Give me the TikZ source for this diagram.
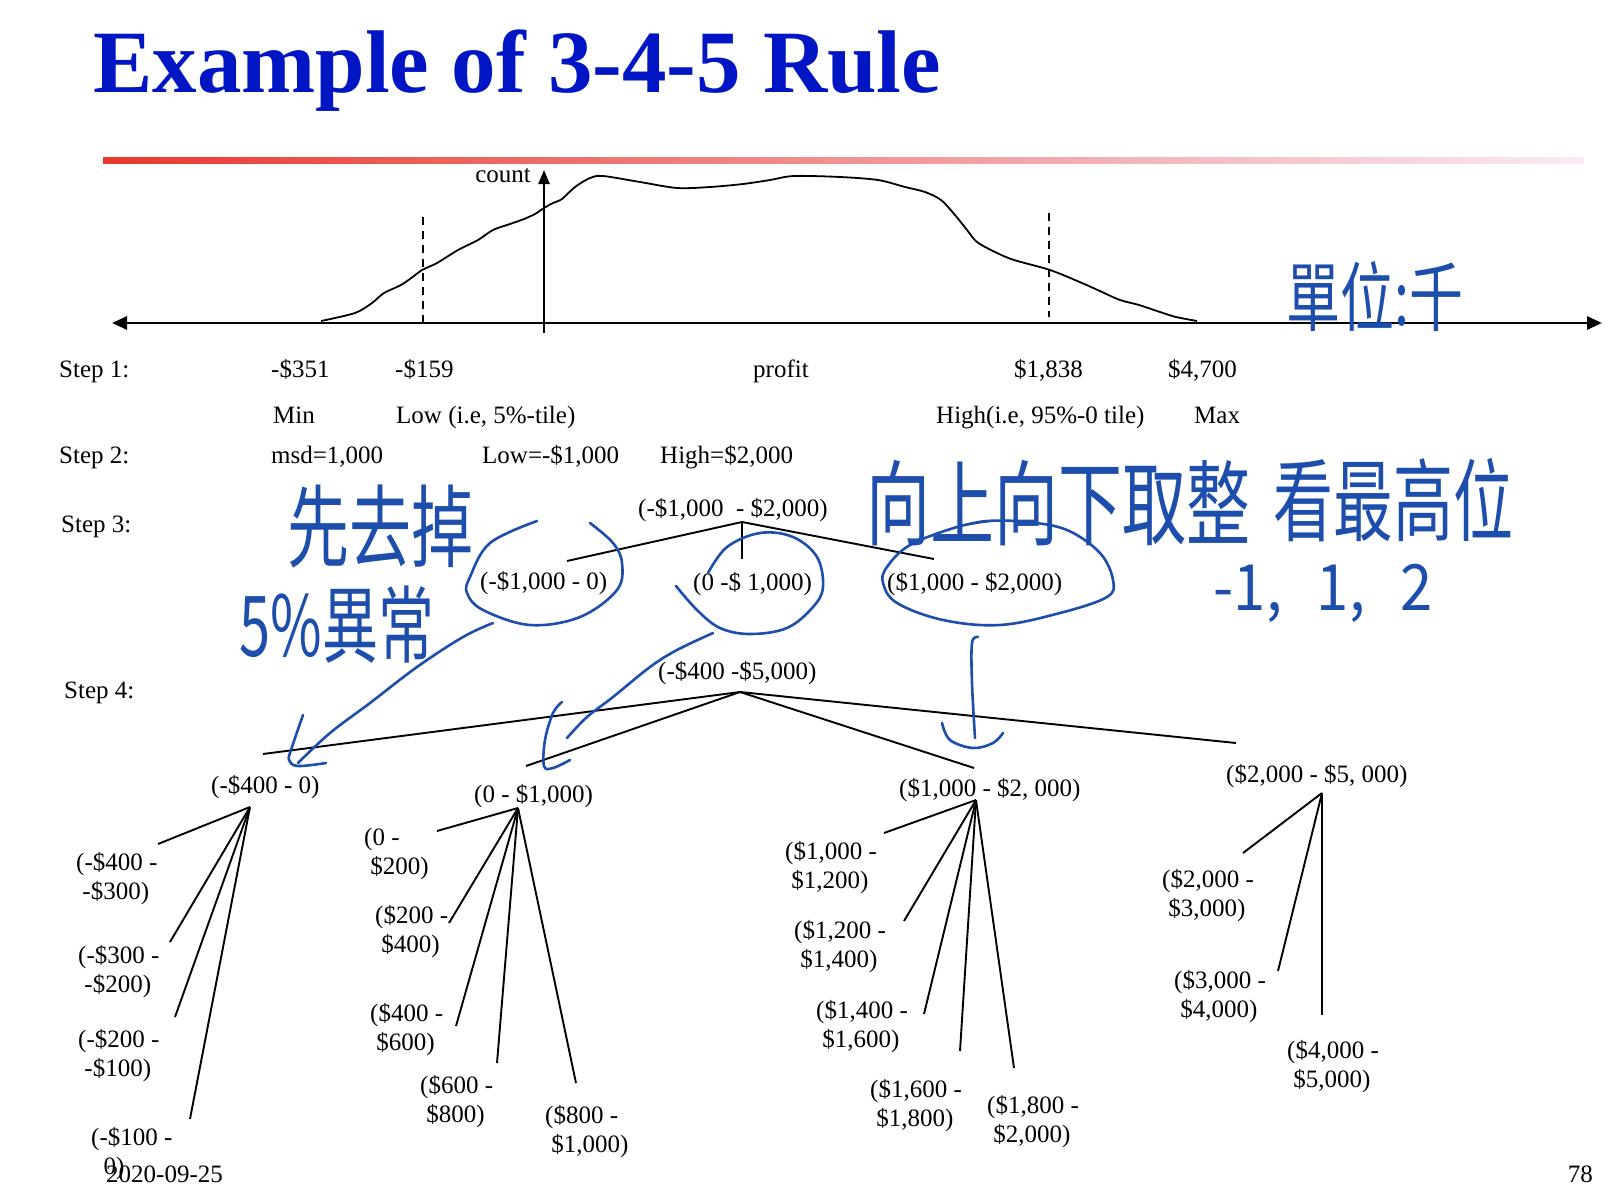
\documentclass[tikz,border=0pt]{standalone}
\usepackage{fontspec}
\usepackage{graphicx}
\setmainfont{Liberation Serif}
\newfontfamily\hwfont{Noto Sans CJK TC}
\usetikzlibrary{arrows.meta}

\definecolor{titleblue}{RGB}{0,22,196}
\definecolor{inkblue}{RGB}{29,78,171}
\definecolor{barred}{RGB}{232,56,44}
\definecolor{barpink}{RGB}{240,158,168}
\definecolor{barpale}{RGB}{249,234,246}

% two-line label whose baseline is that of its first line
\newcommand{\twoline}[2]{\begin{tabular}[t]{@{}l@{}}#1\\#2\end{tabular}}
\newcommand{\ind}{\hspace*{0.25em}}
% tall pen lettering
\newcommand{\tall}[2]{\scalebox{1}[#1]{#2}}

\begin{document}
\begin{tikzpicture}[x=1pt,y=-1pt,
  lbl/.style={font=\fontsize{25}{29.5}\selectfont, inner sep=0pt, anchor=base west},
  conn/.style={line width=1.9pt, black},
  axisline/.style={line width=2.8pt, black},
  curveline/.style={line width=1.8pt, black, line join=round},
  guide/.style={line width=1.4pt, black, dash pattern=on 8pt off 6pt},
  ink/.style={draw=inkblue, line width=2.6pt, line cap=round, line join=round},
  hw/.style={inner sep=0pt, text=inkblue}
]
\useasboundingbox (0,0) rectangle (1618,1194);
\fill[white] (0,0) rectangle (1618,1194);

% heading and colour bar
\node[anchor=base west, inner sep=0pt, text=titleblue,
      font=\bfseries\fontsize{89}{100}\selectfont] (title) at (93,92) {Example of 3-4-5 Rule};
\shade[left color=barred, middle color=barpink, right color=barpale] (103,157) rectangle (1584,163);

% axes
\coordinate (xl) at (112,323);
\coordinate (xr) at (1602,323);
\coordinate (yb) at (544,333);
\coordinate (yt) at (544,170);
\draw[axisline, {Triangle[length=15pt,width=13pt]}-{Triangle[length=15pt,width=13pt]}] (xl) -- (xr);
\draw[line width=2.4pt, -{Triangle[length=14pt,width=11pt]}] (yb) -- (yt);
\node[lbl, anchor=base east] (count) at (531,182) {count};

% distribution of profit
\draw[curveline] plot[smooth, tension=0.5] coordinates {
  (321,321) (355,313) (372,303) (384,293) (401,285) (414,276) (422,270) (437,263)
  (458,250) (478,240) (493,230) (510,224) (524,219) (535,214) (544,208) (553,203)
  (562,199) (575,187) (590,178) (603,176) (640,182) (677,188) (710,187) (743,184)
  (770,180) (794,176) (840,177) (878,180) (905,187) (925,192) (941,200) (955,215)
  (967,230) (977,242) (995,252) (1014,260) (1050,270) (1082,283) (1102,292)
  (1120,300) (1139,305) (1160,312) (1176,317) (1197,321)};

% 5% and 95% cut-offs
\coordinate (lowtop) at (423,217);
\coordinate (lowbot) at (423,322);
\coordinate (hightop) at (1049,213);
\coordinate (highbot) at (1049,317);
\draw[guide] (lowtop) -- (lowbot);
\draw[guide] (hightop) -- (highbot);

% step 1
\node[lbl] (s1) at (59,377) {Step 1:};
\node[lbl] (vmin) at (271,377) {-\$351};
\node[lbl] (vlow) at (395,377) {-\$159};
\node[lbl] (vprofit) at (753,377) {profit};
\node[lbl] (vhigh) at (1014,377) {\$1,838};
\node[lbl] (vmax) at (1168,377) {\$4,700};
\node[lbl] (nmin) at (273,423) {Min};
\node[lbl] (nlow) at (396,423) {Low (i.e, 5\%-tile)};
\node[lbl] (nhigh) at (936,423) {High(i.e, 95\%-0 tile)};
\node[lbl] (nmax) at (1194,423) {Max};

% step 2
\node[lbl] (s2) at (59,463) {Step 2:};
\node[lbl] (msd) at (271,463) {msd=1,000};
\node[lbl] (lowr) at (482,463) {Low=-\$1,000};
\node[lbl] (highr) at (660,463) {High=\$2,000};

% step 3
\node[lbl] (s3) at (61,532) {Step 3:};
\node[lbl] (top3) at (638,516) {(-\$1,000\ \ - \$2,000)};
\node[lbl] (p3a) at (480,589) {(-\$1,000 - 0)};
\node[lbl] (p3b) at (693,590) {(0 -\$ 1,000)};
\node[lbl] (p3c) at (887,590) {(\$1,000 - \$2,000)};
\coordinate (j3) at (742,522);
\coordinate (e3a) at (567,561);
\coordinate (e3b) at (742,559);
\coordinate (e3c) at (934,559);
\draw[conn] (j3) -- (e3a);
\draw[conn] (j3) -- (e3b);
\draw[conn] (j3) -- (e3c);

% step 4
\node[lbl] (s4) at (64,698) {Step 4:};
\node[lbl] (top4) at (658,679) {(-\$400 -\$5,000)};
\coordinate (j4) at (740,692);
\coordinate (e4a) at (263,754);
\coordinate (e4b) at (526,766);
\coordinate (e4c) at (974,768);
\coordinate (e4d) at (1236,743);
\draw[conn] (j4) -- (e4a);
\draw[conn] (j4) -- (e4b);
\draw[conn] (j4) -- (e4c);
\draw[conn] (j4) -- (e4d);

\node[lbl] (qa) at (211,793) {(-\$400 - 0)};
\node[lbl] (qb) at (474,802) {(0 - \$1,000)};
\node[lbl] (qc) at (899,796) {(\$1,000 - \$2, 000)};
\node[lbl] (qd) at (1226,782) {(\$2,000 - \$5, 000)};

% intervals of (-$400 - 0)
\node[lbl] (a1) at (76,870) {\twoline{(-\$400 -}{\ind-\$300)}};
\node[lbl] (a2) at (78,963) {\twoline{(-\$300 -}{\ind-\$200)}};
\node[lbl] (a3) at (78,1047) {\twoline{(-\$200 -}{\ind-\$100)}};
\node[lbl] (a4) at (91,1145) {\twoline{(-\$100 -}{\ind\ind0)}};
\coordinate (ja) at (250,807);
\coordinate (ea1) at (158,844);
\coordinate (ea2) at (170,942);
\coordinate (ea3) at (175,1017);
\coordinate (ea4) at (190,1119);
\foreach \e in {ea1,ea2,ea3,ea4} \draw[conn] (ja) -- (\e);

% intervals of (0 - $1,000)
\node[lbl] (b1) at (364,845) {\twoline{(0 -}{\ind\$200)}};
\node[lbl] (b2) at (375,923) {\twoline{(\$200 -}{\ind\$400)}};
\node[lbl] (b3) at (370,1021) {\twoline{(\$400 -}{\ind\$600)}};
\node[lbl] (b4) at (420,1093) {\twoline{(\$600 -}{\ind\$800)}};
\node[lbl] (b5) at (545,1123) {\twoline{(\$800 -}{\ind\$1,000)}};
\coordinate (jb) at (518,808);
\coordinate (eb1) at (437,831);
\coordinate (eb2) at (449,923);
\coordinate (eb3) at (456,1026);
\coordinate (eb4) at (497,1063);
\coordinate (eb5) at (576,1083);
\foreach \e in {eb1,eb2,eb3,eb4,eb5} \draw[conn] (jb) -- (\e);

% intervals of ($1,000 - $2, 000)
\node[lbl] (c1) at (785,859) {\twoline{(\$1,000 -}{\ind\$1,200)}};
\node[lbl] (c2) at (794,938) {\twoline{(\$1,200 -}{\ind\$1,400)}};
\node[lbl] (c3) at (816,1018) {\twoline{(\$1,400 -}{\ind\$1,600)}};
\node[lbl] (c4) at (870,1097) {\twoline{(\$1,600 -}{\ind\$1,800)}};
\node[lbl] (c5) at (987,1113) {\twoline{(\$1,800 -}{\ind\$2,000)}};
\coordinate (jc) at (976,800);
\coordinate (ec1) at (884,833);
\coordinate (ec2) at (904,921);
\coordinate (ec3) at (924,1014);
\coordinate (ec4) at (960,1051);
\coordinate (ec5) at (1014,1068);
\foreach \e in {ec1,ec2,ec3,ec4,ec5} \draw[conn] (jc) -- (\e);

% intervals of ($2,000 - $5, 000)
\node[lbl] (d1) at (1162,887) {\twoline{(\$2,000 -}{\ind\$3,000)}};
\node[lbl] (d2) at (1174,988) {\twoline{(\$3,000 -}{\ind\$4,000)}};
\node[lbl] (d3) at (1287,1058) {\twoline{(\$4,000 -}{\ind\$5,000)}};
\coordinate (jd) at (1322,793);
\coordinate (ed1) at (1243,853);
\coordinate (ed2) at (1278,971);
\coordinate (ed3) at (1322,1015);
\foreach \e in {ed1,ed2,ed3} \draw[conn] (jd) -- (\e);

% footer
\node[lbl] (date) at (106,1182) {2020-09-25};
\node[lbl, anchor=base east] (page) at (1593,1182) {78};

% pen notes
\node[hw, font=\hwfont\fontsize{62}{70}\selectfont] (noteA) at (380,527) {\tall{1.45}{先去掉}};
\node[hw, font=\hwfont\fontsize{56}{64}\selectfont] (noteB) at (337,625) {\tall{1.5}{5\%異常}};
\node[hw, font=\hwfont\fontsize{64}{72}\selectfont] (noteC) at (1058,503) {\tall{1.45}{向上向下取整}};
\node[hw, font=\hwfont\fontsize{60}{68}\selectfont] (noteD) at (1393,500) {\tall{1.5}{看最高位}};
\node[hw, font=\hwfont\fontsize{58}{66}\selectfont] (noteE) at (1323,593) {\tall{1.1}{-1,\hspace{0.6em}1,\hspace{0.6em}2}};
\node[hw, font=\hwfont\fontsize{54}{62}\selectfont] (noteF) at (1375,297) {\tall{1.4}{單位:千}};

% pen loops round the step-3 intervals
\draw[ink] plot[smooth, tension=0.6] coordinates {
  (537,521) (490,543) (470,577) (467,593) (483,610) (530,625) (580,617)
  (617,590) (622,563) (613,543) (590,523)};
\draw[ink] plot[smooth, tension=0.6] coordinates {
  (676,586) (697,610) (720,628) (750,634) (787,628) (813,607) (823,587)
  (817,557) (793,537) (760,533) (727,547) (708,573)};
\draw[ink] plot[smooth, tension=0.6] coordinates {
  (957,527) (987,521) (1027,522) (1067,530) (1100,553) (1113,580) (1107,597)
  (1060,613) (1000,625) (943,620) (897,603) (883,583) (887,567) (910,545)
  (957,527) (990,521)};

% pen arrows down to step 4
\draw[ink] plot[smooth, tension=0.6] coordinates {
  (493,623) (463,637) (417,667) (370,703) (330,733) (298,763)};
\draw[ink] plot[smooth, tension=0.6] coordinates {
  (303,715) (292,747) (289,760) (298,766) (326,763)};
\draw[ink] plot[smooth, tension=0.6] coordinates {
  (713,633) (677,650) (650,667) (613,697) (587,717) (567,738)};
\draw[ink] plot[smooth, tension=0.6] coordinates {
  (562,702) (553,713) (545,740) (544,766) (553,768) (570,760)};
\draw[ink] plot[smooth, tension=0.6] coordinates {
  (978,637) (972,643) (972,683) (975,738)};
\draw[ink] plot[smooth, tension=0.6] coordinates {
  (942,723) (950,740) (973,748) (993,743) (1003,733)};
\end{tikzpicture}
\end{document}
